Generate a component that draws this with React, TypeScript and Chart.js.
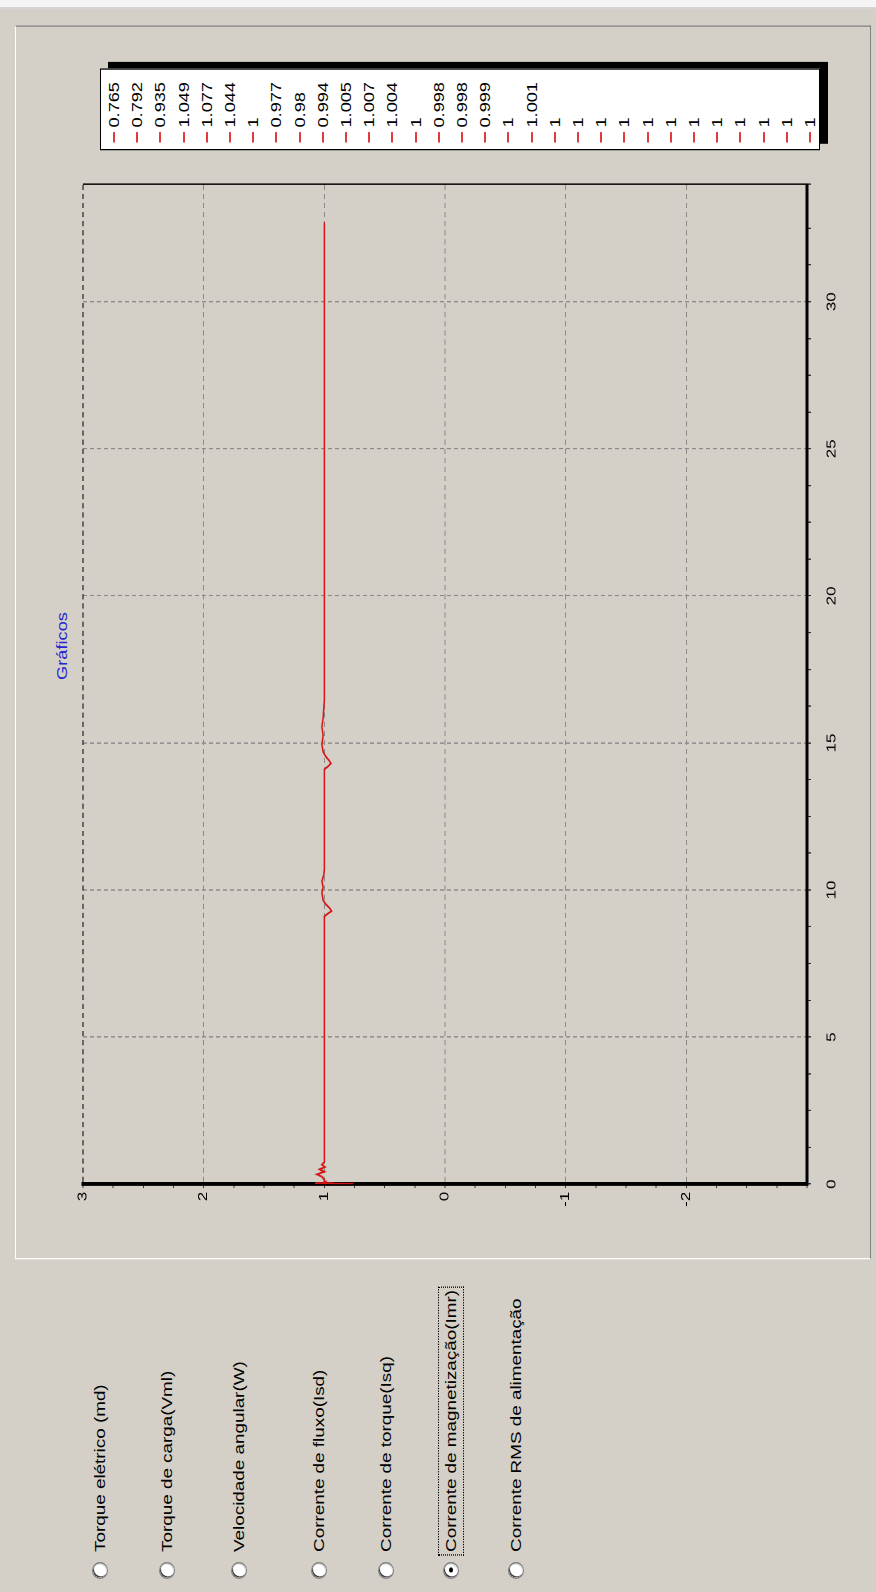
import React, { useEffect, useRef } from 'react';
import { Chart, registerables } from 'chart.js';

Chart.register(...registerables);

// ---------- data ----------
const chartTitle = 'Gráficos';

// time axis (s) and magnetising current (Imr)
const timeSec = [
  0, 0.005, 0.01, 0.015, 0.02, 0.025, 0.03, 0.035, 0.04, 0.045, 0.05, 0.055, 0.06, 0.065, 0.07, 0.075,
  0.08, 0.085, 0.09, 0.095, 0.1, 0.105, 0.11, 0.115, 0.12, 0.125, 0.13, 0.135, 0.14, 0.145, 0.15,
  0.25, 0.33, 0.42, 0.5, 0.58, 0.66, 0.75,
  9.1, 9.2, 9.28, 9.38, 9.5, 9.65, 9.9, 10.1, 10.3, 10.5, 10.7,
  14.1, 14.2, 14.3, 14.4, 14.55, 14.7, 14.95, 15.25, 15.55, 15.85, 16.15, 16.45,
  32.7,
];
const imrValues = [
  0.765, 0.792, 0.935, 1.049, 1.077, 1.044, 1, 0.977, 0.98, 0.994, 1.005, 1.007, 1.004, 1, 0.998, 0.998,
  0.999, 1, 1.001, 1, 1, 1, 1, 1, 1, 1, 1, 1, 1, 1, 1,
  1.02, 1.06, 1.0, 1.04, 0.995, 1.02, 1.0,
  1.0, 0.97, 0.94, 0.955, 0.985, 1.01, 1.02, 1.01, 1.02, 1.005, 1.0,
  1.0, 0.97, 0.945, 0.96, 0.99, 1.01, 1.02, 1.01, 1.02, 1.01, 1.005, 1.0,
  1.0,
];
const legendCount = 31;

const timeMin = 0;
const timeMax = 34;
const timeMajor = 5;
const timeMinor = 1.25;
const valueMin = -3;
const valueMax = 3;
const valueMinor = 0.25;

const radioLabels = [
  'Torque elétrico (md)',
  'Torque de carga(Vml)',
  'Velocidade angular(W)',
  'Corrente de fluxo(Isd)',
  'Corrente de torque(Isq)',
  'Corrente de magnetização(Imr)',
  'Corrente RMS de alimentação',
];
const selectedRadio = 5;

// ---------- layout / style ----------
const STRETCH = 1.3;
const PAGE_W = 876;
const PAGE_H = 1592;
const L_W = PAGE_H / STRETCH;
const BG = '#d4d0c8';
const GRID = '#8a8a8a';
const LINE = '#d81414';
const FONT = '"Liberation Sans", Arial, Helvetica, sans-serif';
const radioCenters = [100, 167, 239, 319, 386, 451, 516];

Chart.defaults.font.family = FONT;

function ChartCanvas() {
  const ref = useRef<HTMLCanvasElement | null>(null);
  useEffect(() => {
    if (!ref.current) return;
    const points = timeSec.map((t, i) => ({ x: t, y: imrValues[i] }));
    const chart = new Chart(ref.current, {
      type: 'line',
      data: {
        datasets: [
          {
            label: 'Imr',
            data: points,
            borderColor: LINE,
            borderWidth: 1.5,
            pointRadius: 0,
            tension: 0,
            fill: false,
          },
        ],
      },
      options: {
        animation: false,
        responsive: false,
        devicePixelRatio: 2,
        parsing: false as any,
        layout: { padding: { left: 0, right: 17, top: 43, bottom: 0 } },
        plugins: {
          legend: { display: false },
          title: { display: false },
          tooltip: { enabled: false },
        },
        scales: {
          x: {
            type: 'linear',
            min: timeMin,
            max: timeMax,
            afterFit: (s: any) => {
              s.height = 40;
            },
            ticks: {
              stepSize: timeMinor,
              autoSkip: false,
              maxRotation: 0,
              minRotation: 0,
              padding: 13,
              color: '#000',
              font: { size: 13 },
              callback: (v: any) => (Number(v) % timeMajor === 0 ? String(v) : ''),
            },
            grid: {
              color: (c: any) => {
                const v = c.tick ? c.tick.value : 0;
                if (v === timeMax) return '#000';
                if (v !== timeMin && v % timeMajor === 0) return GRID;
                return 'rgba(0,0,0,0)';
              },
              tickColor: '#333',
              tickLength: 4,
              lineWidth: 1,
            },
            border: {
              display: true,
              color: '#000',
              width: 3,
              dash: (c: any) => (c.tick && c.tick.value === timeMax ? [] : [4, 3]),
            },
          },
          y: {
            type: 'linear',
            min: valueMin,
            max: valueMax,
            afterFit: (s: any) => {
              s.width = 53.8;
            },
            ticks: {
              stepSize: valueMinor,
              autoSkip: false,
              padding: 3,
              color: '#000',
              font: { size: 13 },
              callback: (v: any) => {
                const n = Number(v);
                return Number.isInteger(n) && n !== valueMin ? String(n) : '';
              },
            },
            grid: {
              color: (c: any) => {
                const v = c.tick ? c.tick.value : 0;
                if (v === valueMax) return '#000';
                if (Number.isInteger(v) && v !== valueMin) return GRID;
                return 'rgba(0,0,0,0)';
              },
              tickColor: '#333',
              tickLength: 3,
              lineWidth: 1,
            },
            border: {
              display: true,
              color: '#000',
              width: 3,
              dash: [4, 3],
            },
          },
        },
      },
    });
    return () => chart.destroy();
  }, []);
  return (
    <canvas
      ref={ref}
      width={840}
      height={807}
      style={{ position: 'absolute', left: 260, top: 40, width: 840, height: 807 }}
    />
  );
}

function Legend() {
  const entries = imrValues.slice(0, legendCount).map((v) => String(v));
  const top = 100;
  const rowStep = 23.2;
  return (
    <div
      style={{
        position: 'absolute',
        left: 1108.5,
        top,
        width: 63,
        height: 720,
        background: '#fff',
        border: '1px solid #000',
        boxSizing: 'border-box',
        boxShadow: '5px 8px 0 0 #000',
      }}
    >
      {entries.map((txt, i) => {
        const cy = 13 + i * rowStep;
        return (
          <div key={i} style={{ position: 'absolute', left: 0, top: cy - 8, height: 16, width: 62 }}>
            <div
              style={{
                position: 'absolute',
                left: 5.5,
                top: 7,
                width: 7.5,
                height: 2,
                background: '#e23a3a',
              }}
            />
            <span
              style={{
                position: 'absolute',
                left: 17,
                top: 0,
                fontSize: 14,
                lineHeight: '16px',
                color: '#000',
                whiteSpace: 'nowrap',
                fontFamily: FONT,
              }}
            >
              {txt}
            </span>
          </div>
        );
      })}
    </div>
  );
}

function Radios() {
  return (
    <>
      {radioLabels.map((label, i) => {
        const c = radioCenters[i];
        const sel = i === selectedRadio;
        return (
          <React.Fragment key={i}>
            <div
              style={{
                position: 'absolute',
                left: 10.4,
                top: c - 8,
                width: 13,
                height: 16,
                borderRadius: '50%',
                background: '#fff',
                boxSizing: 'border-box',
                border: '1px solid #808080',
                boxShadow: 'inset 1px 1px 0 #404040, inset -1px -1px 0 #e4e4e4',
              }}
            >
              {sel && (
                <div
                  style={{
                    position: 'absolute',
                    left: 3.5,
                    top: 5,
                    width: 4,
                    height: 4,
                    borderRadius: '50%',
                    background: '#000',
                  }}
                />
              )}
            </div>
            <span
              style={{
                position: 'absolute',
                left: sel ? 27.8 : 30.8,
                top: c,
                transform: 'translateY(-50%)',
                fontSize: 14.5,
                lineHeight: '17px',
                color: '#000',
                whiteSpace: 'nowrap',
                fontFamily: FONT,
                border: sel ? '1px dotted #000' : 'none',
                padding: sel ? '3.5px 2px' : 0,
              }}
            >
              {label}
            </span>
          </React.Fragment>
        );
      })}
    </>
  );
}

export default function App() {
  return (
    <div
      style={{
        position: 'fixed',
        left: 0,
        top: 0,
        width: PAGE_W,
        height: PAGE_H,
        overflow: 'hidden',
        background: BG,
      }}
    >
      <div
        style={{
          position: 'absolute',
          left: 0,
          top: 0,
          width: L_W,
          height: PAGE_W,
          background: BG,
          transformOrigin: '0 0',
          transform: `translate(0px, ${PAGE_H}px) rotate(-90deg) scaleX(${STRETCH})`,
          fontFamily: FONT,
        }}
      >
        <div
          style={{
            position: 'absolute',
            left: L_W - 6.2,
            top: 0,
            width: 6.2,
            height: PAGE_W,
            background: '#f4f4f4',
            borderLeft: '1px solid #c8c8c8',
            boxSizing: 'border-box',
          }}
        />
        <div
          style={{
            position: 'absolute',
            left: 256,
            top: 15,
            width: 949,
            height: 856,
            boxSizing: 'border-box',
            borderTop: '1px solid #ffffff',
            borderLeft: '1px solid #ffffff',
            borderRight: '1px solid #808080',
            borderBottom: '1px solid #808080',
          }}
        />
        <div
          style={{
            position: 'absolute',
            left: 727.7,
            top: 62,
            transform: 'translate(-50%, -50%)',
            fontSize: 14,
            color: '#2424d0',
            whiteSpace: 'nowrap',
          }}
        >
          {chartTitle}
        </div>
        <ChartCanvas />
        <Legend />
        <Radios />
      </div>
    </div>
  );
}
